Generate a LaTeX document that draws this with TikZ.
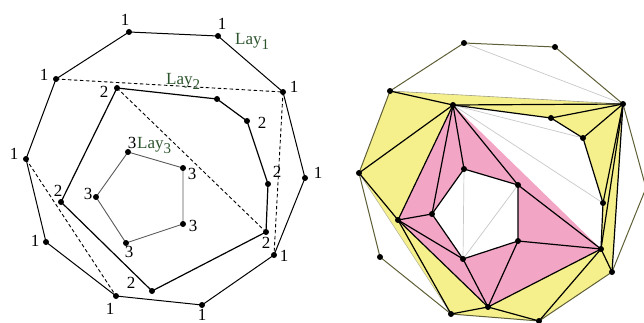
\documentclass[tikz,border=0pt]{standalone}
\usepackage{fontspec}
\setmainfont{Liberation Serif}
\definecolor{laygreen}{RGB}{45,85,45}
\definecolor{yfill}{RGB}{246,240,140}
\definecolor{pfill}{RGB}{242,165,196}
\definecolor{olive2}{RGB}{95,95,55}
\definecolor{lgrey}{RGB}{200,200,200}
\begin{document}
\begin{tikzpicture}[x=1pt,y=-1pt,
  dot/.style={circle,fill=black,inner sep=0pt,minimum size=6pt},
  lab/.style={font=\fontsize{17}{17}\selectfont,inner sep=0pt},
  lay/.style={font=\fontsize{17}{17}\selectfont,text=laygreen,inner sep=0pt,anchor=west},
  l1/.style={black,line width=1pt},
  l2/.style={black,line width=1.2pt},
  l3/.style={black!65,line width=0.9pt},
  dsh/.style={black,line width=0.9pt,dashed,dash pattern=on 3.5pt off 2.5pt},
  edge/.style={black,line width=1.2pt,line join=round},
  outer/.style={olive2,line width=1pt,line join=round},
  glight/.style={lgrey,line width=0.7pt}]
\useasboundingbox (0,0) rectangle (644,323);
% ---------- left diagram ----------
\coordinate (A1) at (129,32);  \coordinate (A2) at (218,36);
\coordinate (A3) at (283,92);  \coordinate (A4) at (305,178);
\coordinate (A5) at (274,255); \coordinate (A6) at (202,305);
\coordinate (A7) at (116,296); \coordinate (A8) at (46,242);
\coordinate (A9) at (26,159);  \coordinate (A10) at (56,79);
\coordinate (B1) at (117,88);  \coordinate (B2) at (217,99);
\coordinate (B3) at (247,121); \coordinate (B4) at (268,184);
\coordinate (B5) at (266,232); \coordinate (B6) at (152,291);
\coordinate (B7) at (61,202);
\coordinate (C1) at (128,152); \coordinate (C2) at (183,168);
\coordinate (C3) at (183,224); \coordinate (C4) at (126,243);
\coordinate (C5) at (96,197);
\draw[l1] (A1)--(A2)--(A3)--(A4)--(A5)--(A6)--(A7)--(A8)--(A9)--(A10)--cycle;
\draw[l2] (B1)--(B2)--(B3)--(B4)--(B5)--(B6)--(B7)--cycle;
\draw[l3] (C1)--(C2)--(C3)--(C4)--(C5)--cycle;
\draw[dsh] (A10)--(A3);
\draw[dsh] (A3)--(A5);
\draw[dsh] (A9)--(A7);
\draw[dsh] (B1)--(B5);
\foreach \p in {A1,A2,A3,A4,A5,A6,A7,A8,A9,A10,B1,B2,B3,B4,B5,B6,B7,C1,C2,C3,C4,C5}
  \node[dot] (d\p) at (\p) {};
\node[lab] (tA1) at (125,20) {1};
\node[lab] (tA2) at (222,24) {1};
\node[lab] (tA3) at (294,87) {1};
\node[lab] (tA4) at (318,173) {1};
\node[lab] (tA5) at (284,256) {1};
\node[lab] (tA6) at (202,315) {1};
\node[lab] (tA7) at (110,309) {1};
\node[lab] (tA8) at (35,241) {1};
\node[lab] (tA9) at (14,154) {1};
\node[lab] (tA10) at (44,75) {1};
\node[lab] (tB1) at (104,92) {2};
\node[lab] (tB3) at (262,123) {2};
\node[lab] (tB4) at (277,172) {2};
\node[lab] (tB5) at (266,243) {2};
\node[lab] (tB6) at (131,283) {2};
\node[lab] (tB7) at (58,191) {2};
\node[lab] (tC1) at (132,143) {3};
\node[lab] (tC2) at (192,174) {3};
\node[lab] (tC3) at (193,226) {3};
\node[lab] (tC4) at (129,252) {3};
\node[lab] (tC5) at (88,194) {3};
\node[lay] (lay1) at (235,41) {Lay\raisebox{-5pt}{\fontsize{15}{15}\selectfont 1}};
\node[lay] (lay2) at (166,81) {Lay\raisebox{-5pt}{\fontsize{15}{15}\selectfont 2}};
\node[lay] (lay3) at (137,146) {Lay\raisebox{-5pt}{\fontsize{15}{15}\selectfont 3}};
% ---------- right diagram ----------
\coordinate (D1) at (464,43);  \coordinate (D2) at (555,47);
\coordinate (D3) at (623,104); \coordinate (D4) at (646,188);
\coordinate (D5) at (612,272); \coordinate (D6) at (539,321);
\coordinate (D7) at (451,314); \coordinate (D8) at (380,257);
\coordinate (D9) at (359,173); \coordinate (D10) at (390,91);
\coordinate (E1) at (453,105); \coordinate (E2) at (551,118);
\coordinate (E3) at (583,138); \coordinate (E4) at (603,203);
\coordinate (E5) at (601,249); \coordinate (E6) at (488,307);
\coordinate (E7) at (398,220);
\coordinate (F1) at (464,169); \coordinate (F2) at (518,185);
\coordinate (F3) at (518,241); \coordinate (F4) at (463,259);
\coordinate (F5) at (432,214);
\fill[yfill] (D10)--(D3)--(D5)--(D6)--(D7)--(D9)--cycle;
\fill[white] (E1)--(E2)--(E3)--(E4)--(E5)--(E6)--(E7)--cycle;
\fill[pfill] (E1)--(E5)--(E6)--(E7)--cycle;
\fill[white] (F1)--(F2)--(F3)--(F4)--(F5)--cycle;
\draw[glight] (D1)--(D3);
\draw[glight] (E1)--(E3);
\draw[glight] (E1)--(E4);
\draw[glight] (F1)--(F4);
\draw[glight] (F2)--(F4);
\draw[olive2!60,line width=0.6pt] (D10)--(D3);
\draw[olive2!50,line width=0.5pt] (D9)--(D7);
\draw[outer] (D1)--(D2)--(D3)--(D4)--(D5)--(D6)--(D7)--(D8)--(D9)--(D10)--cycle;
\draw[edge] (E1)--(E2)--(E3)--(E4)--(E5)--(E6)--(E7)--cycle;
\draw[edge] (F1)--(F2)--(F3)--(F4)--(F5)--cycle;
\draw[edge] (D10)--(E1)--(D3);
\draw[edge] (D9)--(E1);
\draw[edge] (D9)--(E7)--(D7);
\draw[edge] (E1)--(F5);
\draw[edge] (E1)--(F1);
\draw[edge] (E1)--(F2);
\draw[edge] (E7)--(F5);
\draw[edge] (E7)--(F4);
\draw[edge] (F4)--(E6);
\draw[edge] (F3)--(E6);
\draw[edge] (F3)--(E5);
\draw[edge] (F2)--(E5);
\draw[edge] (D3)--(E2);
\draw[edge] (D3)--(E3);
\draw[edge] (D3)--(E4);
\draw[edge] (D3)--(E5);
\draw[edge] (D3)--(D5);
\draw[edge] (E5)--(D5);
\draw[edge] (E5)--(D6);
\draw[edge] (E6)--(D6);
\draw[edge] (E6)--(D7);
\foreach \p in {D1,D2,D3,D5,D6,D7,D8,D9,D10,E1,E2,E3,E4,E5,E6,E7,F1,F2,F3,F4,F5}
  \node[dot] (d\p) at (\p) {};
\end{tikzpicture}
\end{document}
